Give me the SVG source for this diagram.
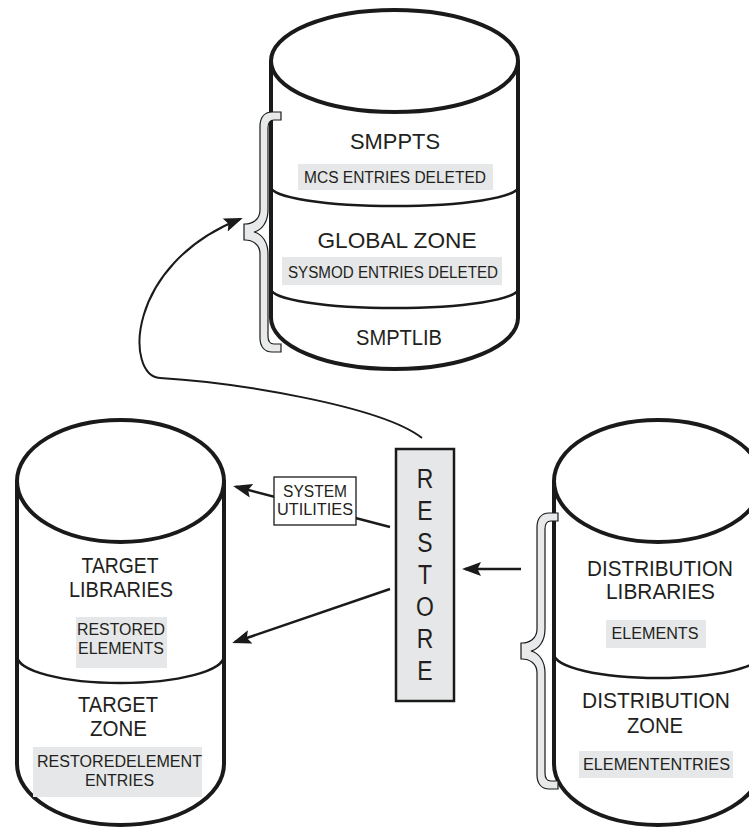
<svg xmlns="http://www.w3.org/2000/svg" width="749" height="829" viewBox="0 0 749 829">
<defs>
<style>
.cyl{fill:#fff;stroke:#1a1a1a;stroke-width:4}
.div{fill:none;stroke:#1a1a1a;stroke-width:2.5}
.hl{fill:#e6e7e8;stroke:none}
.brace{fill:#e8e9ea;stroke:#1a1a1a;stroke-width:1.2}
.t{font-family:"Liberation Sans",Arial,sans-serif;fill:#231f20;text-anchor:middle}
.big{font-size:22px}
.sm{font-size:16px}
.conn{fill:none;stroke:#1a1a1a;stroke-width:2.5}
.curve{fill:none;stroke:#1a1a1a;stroke-width:2}
</style>
<marker id="ah" markerUnits="userSpaceOnUse" markerWidth="19" markerHeight="14" viewBox="0 0 19 14" refX="16" refY="7" orient="auto">
<path d="M0,0 L19,7 L0,14 L3.5,7 z" fill="#1a1a1a"/>
</marker>
</defs>
<rect x="0" y="0" width="749" height="829" fill="#fff"/>

<g id="smppts-cylinder">
<path class="cyl" d="M271,61 L271,318 A123.5,51 0 0 0 518,318 L518,61"/>
<ellipse class="cyl" cx="394.5" cy="61" rx="123.5" ry="51"/>
<path class="div" d="M271,187 A123.5,19 0 0 0 518,187"/>
<path class="div" d="M271,289 A123.5,19 0 0 0 518,289"/>
<text class="t big" font-size="24" x="395" y="149" textLength="90" lengthAdjust="spacingAndGlyphs">SMPPTS</text>
<rect class="hl" x="298" y="164" width="195" height="26"/>
<text class="t sm" x="395" y="183" textLength="182" lengthAdjust="spacingAndGlyphs">MCS ENTRIES DELETED</text>
<text class="t big" font-size="24" x="397" y="248" textLength="159" lengthAdjust="spacingAndGlyphs">GLOBAL ZONE</text>
<rect class="hl" x="282" y="257" width="220" height="28"/>
<text class="t sm" x="393" y="278" textLength="210" lengthAdjust="spacingAndGlyphs">SYSMOD ENTRIES DELETED</text>
<text class="t big" font-size="24" x="399" y="345" textLength="86" lengthAdjust="spacingAndGlyphs">SMPTLIB</text>
</g>
<g id="smppts-brace">
<path class="brace" transform="translate(244,232)" d="M37,-120 L28,-120 C20,-120 16,-114 16,-106 L16,-22 C16,-12 8,-8 1,-8 L0,-8 L0,8 L1,8 C8,8 16,12 16,22 L16,106 C16,114 20,120 28,120 L37,120 L37,112 L30,112 C26,112 24,110 24,104 L24,22 C24,10 18,2 10,0 C18,-2 24,-10 24,-22 L24,-104 C24,-110 26,-112 30,-112 L37,-112 Z"/>
</g>

<g id="target-cylinder">
<path class="cyl" d="M17,481 L17,764 A103.5,61 0 0 0 224,764 L224,481"/>
<ellipse class="cyl" cx="120.5" cy="481" rx="103.5" ry="61"/>
<path class="div" d="M17,656 A103.5,27 0 0 0 224,656"/>
<text class="t big" x="120" y="573" textLength="77" lengthAdjust="spacingAndGlyphs">TARGET</text>
<text class="t big" x="121" y="597" textLength="104" lengthAdjust="spacingAndGlyphs">LIBRARIES</text>
<rect class="hl" x="76" y="617" width="91" height="51"/>
<text class="t sm" x="121" y="635" textLength="88" lengthAdjust="spacingAndGlyphs">RESTORED</text>
<text class="t sm" x="121" y="654" textLength="86" lengthAdjust="spacingAndGlyphs">ELEMENTS</text>
<text class="t big" x="118" y="712" textLength="80" lengthAdjust="spacingAndGlyphs">TARGET</text>
<text class="t big" x="118.5" y="736" textLength="57" lengthAdjust="spacingAndGlyphs">ZONE</text>
<rect class="hl" x="33" y="747" width="169" height="50"/>
<text class="t sm" x="119.5" y="767" textLength="165" lengthAdjust="spacingAndGlyphs">RESTOREDELEMENT</text>
<text class="t sm" x="119.5" y="786" textLength="69" lengthAdjust="spacingAndGlyphs">ENTRIES</text>
</g>

<g id="distribution-cylinder">
<path class="cyl" d="M554,481 L554,764 A104,61 0 0 0 762,764 L762,481"/>
<ellipse class="cyl" cx="658" cy="481" rx="104" ry="61"/>
<path class="div" d="M554,654 A104,24 0 0 0 762,654"/>
<text class="t big" x="660" y="576" textLength="146" lengthAdjust="spacingAndGlyphs">DISTRIBUTION</text>
<text class="t big" x="660.5" y="599" textLength="109" lengthAdjust="spacingAndGlyphs">LIBRARIES</text>
<rect class="hl" x="606" y="620" width="100" height="28"/>
<text class="t sm" x="655" y="639" textLength="87" lengthAdjust="spacingAndGlyphs">ELEMENTS</text>
<text class="t big" x="656" y="708" textLength="148" lengthAdjust="spacingAndGlyphs">DISTRIBUTION</text>
<text class="t big" x="655" y="733" textLength="56" lengthAdjust="spacingAndGlyphs">ZONE</text>
<rect class="hl" x="579" y="751" width="154" height="27"/>
<text class="t sm" x="656.5" y="770" textLength="147" lengthAdjust="spacingAndGlyphs">ELEMENTENTRIES</text>
</g>
<g id="distribution-brace">
<path class="brace" transform="translate(521,651)" d="M37,-138 L28,-138 C20,-138 16,-132 16,-124 L16,-22 C16,-12 8,-8 1,-8 L0,-8 L0,8 L1,8 C8,8 16,12 16,22 L16,124 C16,132 20,138 28,138 L37,138 L37,130 L30,130 C26,130 24,128 24,122 L24,22 C24,10 18,2 10,0 C18,-2 24,-10 24,-22 L24,-122 C24,-128 26,-130 30,-130 L37,-130 Z"/>
</g>

<g id="restore">
<rect x="396" y="449" width="58" height="252" fill="#e6e7e8" stroke="#1a1a1a" stroke-width="2.5"/>
<text class="t" font-size="27" transform="translate(425,0) scale(0.85,1)">
<tspan x="0" y="488">R</tspan><tspan x="0" y="520">E</tspan><tspan x="0" y="552">S</tspan><tspan x="0" y="584">T</tspan><tspan x="0" y="616">O</tspan><tspan x="0" y="648">R</tspan><tspan x="0" y="680">E</tspan>
</text>
</g>

<g id="connectors">
<path class="curve" d="M422,438 C380,405 230,382 160,378 C125,376 125,265 240,219" marker-end="url(#ah)"/>
<path class="conn" d="M390,527 L236,486.8" marker-end="url(#ah)"/>
<path class="conn" d="M390,589 L235,642" marker-end="url(#ah)"/>
<path class="conn" d="M521,569 L465,569" marker-end="url(#ah)"/>
<g id="system-utilities-label">
<rect x="274" y="477" width="82" height="48" fill="#fff" stroke="#1a1a1a" stroke-width="1.3"/>
<text class="t" font-size="16" x="315" y="497" textLength="64" lengthAdjust="spacingAndGlyphs">SYSTEM</text>
<text class="t" font-size="16" x="315" y="515" textLength="76" lengthAdjust="spacingAndGlyphs">UTILITIES</text>
</g>
</g>
</svg>
